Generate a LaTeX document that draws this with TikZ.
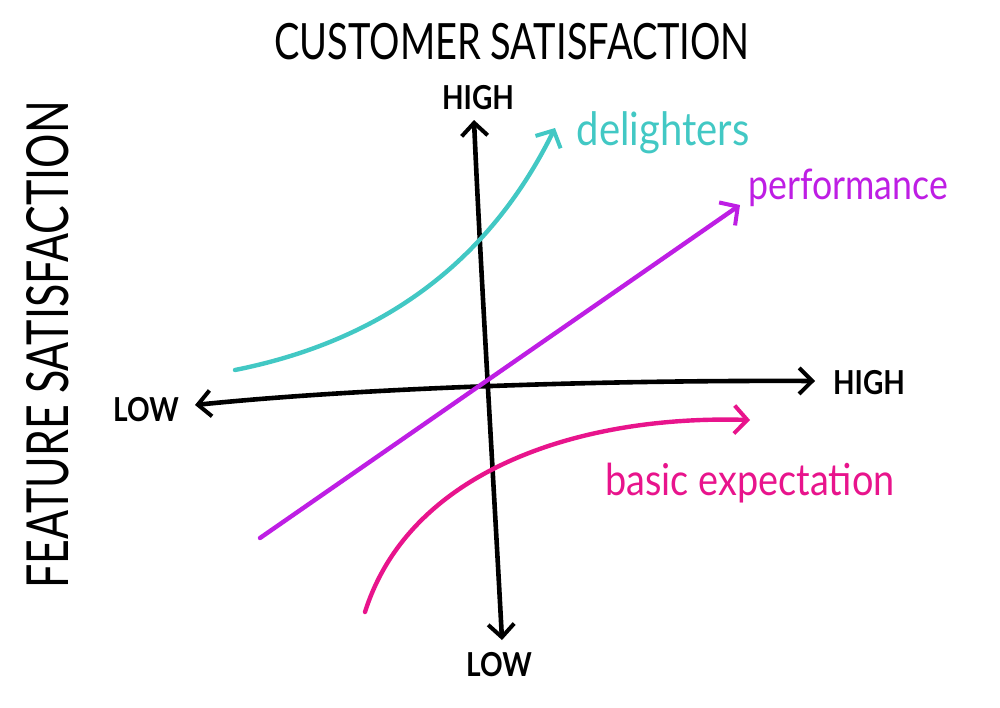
\documentclass[tikz,border=0pt]{standalone}
\usepackage{fontspec}
\setmainfont{Lato}
\usetikzlibrary{arrows.meta}
\definecolor{teal}{RGB}{66,200,196}
\definecolor{purp}{RGB}{190,30,228}
\definecolor{pinkc}{RGB}{232,20,140}
\tikzset{
  axis/.style={line width=4.6pt, black, line cap=round, {Straight Barb[length=13pt,width=26pt,line width=4pt]}-{Straight Barb[length=13pt,width=26pt,line width=4pt]}},
  curve/.style={line width=4.4pt, line cap=round, -{Straight Barb[length=13pt,width=28pt,line width=4pt]}},
  caps/.style={inner sep=0pt, font=\fontsize{#1}{#1}\selectfont},
  lbl/.style={inner sep=0pt, font=\fontsize{#1}{#1}\selectfont}
}
\begin{document}
\begin{tikzpicture}[x=1pt,y=-1pt]
\useasboundingbox (0,0) rectangle (1000,707);
% titles
\node[caps=50] (title) at (512,42) {\scalebox{0.76}[1]{CUSTOMER SATISFACTION}};
\node[caps=58, rotate=90] (ytitle) at (48,345) {\scalebox{0.74}[1]{FEATURE SATISFACTION}};
% axis labels
\node[caps=33] (high1) at (478,98) {\scalebox{0.85}[1]{\textbf{HIGH}}};
\node[caps=33] (high2) at (869,383) {\scalebox{0.85}[1]{\textbf{HIGH}}};
\node[caps=33] (low1) at (146,410) {\scalebox{0.85}[1]{\textbf{LOW}}};
\node[caps=33] (low2) at (499,665) {\scalebox{0.85}[1]{\textbf{LOW}}};
% axes
\coordinate (vtop) at (474,120);
\coordinate (vbot) at (502,640);
\coordinate (hl) at (195,405);
\coordinate (hr) at (815,381);
\draw[axis] (vbot) .. controls (493,470) and (480,260) .. (vtop);
\draw[axis] (hl) .. controls (360,388) and (600,380) .. (hr);
% curves
\coordinate (d0) at (235,370);
\coordinate (d1) at (555,128);
\draw[curve, teal] (d0) .. controls (360,345) and (480,280) .. (d1);
\coordinate (p0) at (260,538);
\coordinate (p1) at (740,205);
\draw[curve, purp] (p0) -- (p1);
\coordinate (b0) at (365,612);
\coordinate (b1) at (750,420);
\draw[curve, pinkc] (b0) .. controls (410,470) and (580,415) .. (b1);
% curve labels
\node[lbl=46, text=teal] (dl) at (663,133) {\scalebox{0.87}[1]{delighters}};
\node[lbl=42, text=purp] (pl) at (848,188) {\scalebox{0.85}[1]{performance}};
\node[lbl=44, text=pinkc] (bl) at (750,483) {\scalebox{0.86}[1]{basic expectation}};
\end{tikzpicture}
\end{document}
